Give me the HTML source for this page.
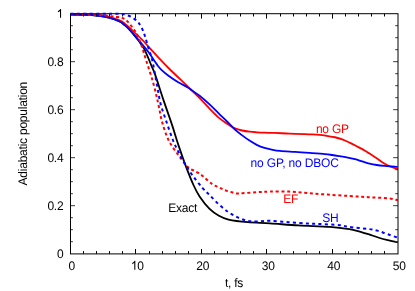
<!DOCTYPE html>
<html><head><meta charset="utf-8"><title>Adiabatic population</title>
<style>
html,body{margin:0;padding:0;background:#fff;}
body{width:415px;height:291px;overflow:hidden;}
svg{display:block;will-change:transform;}
text{text-rendering:geometricPrecision;letter-spacing:-0.23px;font-family:"Liberation Sans",sans-serif;font-size:12px;fill:#000;}
</style></head><body>
<svg width="415" height="291" viewBox="0 0 415 291">
<rect x="0" y="0" width="415" height="291" fill="#fff"/>
<g fill="none" stroke-width="1.8" stroke-linejoin="round">
<path stroke="#000" d="M70.50,14.60 C72.92,14.63 80.58,14.63 85.00,14.80 C89.42,14.97 92.83,15.08 97.00,15.60 C101.17,16.12 106.23,16.92 110.00,17.90 C113.77,18.88 117.18,20.33 119.60,21.50 C122.02,22.67 122.88,23.58 124.50,24.90 C126.12,26.22 127.70,27.72 129.30,29.40 C130.90,31.08 132.57,33.13 134.10,35.00 C135.63,36.87 136.80,38.23 138.50,40.60 C140.20,42.97 142.17,45.08 144.30,49.20 C146.43,53.32 149.45,60.93 151.30,65.30 C153.15,69.67 153.35,69.55 155.40,75.40 C157.45,81.25 160.80,92.07 163.60,100.40 C166.40,108.73 169.72,117.90 172.20,125.40 C174.68,132.90 176.20,138.53 178.50,145.40 C180.80,152.27 183.47,159.92 186.00,166.60 C188.53,173.28 191.43,180.52 193.70,185.50 C195.97,190.48 197.00,192.63 199.60,196.50 C202.20,200.37 206.08,205.48 209.30,208.70 C212.52,211.92 215.70,213.98 218.90,215.80 C222.10,217.62 223.68,218.53 228.50,219.60 C233.32,220.67 240.88,221.57 247.80,222.20 C254.72,222.83 261.55,222.87 270.00,223.40 C278.45,223.93 288.50,224.82 298.50,225.40 C308.50,225.98 321.53,226.28 330.00,226.90 C338.47,227.52 344.48,228.37 349.30,229.10 C354.12,229.83 355.70,230.45 358.90,231.30 C362.10,232.15 365.28,233.17 368.50,234.20 C371.72,235.23 374.98,236.50 378.20,237.50 C381.42,238.50 384.55,239.38 387.80,240.20 C391.05,241.02 396.05,242.03 397.70,242.40"/>
<path stroke="#f00" d="M70.50,14.55 C72.92,14.58 80.08,14.59 85.00,14.70 C89.92,14.81 95.83,14.82 100.00,15.20 C104.17,15.58 106.73,16.13 110.00,17.00 C113.27,17.87 117.18,19.33 119.60,20.40 C122.02,21.47 122.88,22.25 124.50,23.40 C126.12,24.55 127.70,25.83 129.30,27.30 C130.90,28.77 132.50,30.65 134.10,32.20 C135.70,33.75 137.50,35.30 138.90,36.60 C140.30,37.90 140.45,37.83 142.50,40.00 C144.55,42.17 148.65,46.78 151.20,49.60 C153.75,52.42 154.92,53.83 157.80,56.90 C160.68,59.97 163.50,63.05 168.50,68.00 C173.50,72.95 182.62,81.58 187.80,86.60 C192.98,91.62 196.02,94.47 199.60,98.10 C203.18,101.73 206.08,105.10 209.30,108.40 C212.52,111.70 215.70,115.20 218.90,117.90 C222.10,120.60 225.82,122.85 228.50,124.60 C231.18,126.35 232.72,127.42 235.00,128.40 C237.28,129.38 239.78,129.95 242.20,130.50 C244.62,131.05 247.08,131.40 249.50,131.70 C251.92,132.00 254.12,132.13 256.70,132.30 C259.28,132.47 261.95,132.60 265.00,132.70 C268.05,132.80 270.92,132.75 275.00,132.90 C279.08,133.05 284.50,133.40 289.50,133.60 C294.50,133.80 301.22,133.97 305.00,134.10 C308.78,134.23 309.78,134.27 312.20,134.40 C314.62,134.53 317.08,134.66 319.50,134.90 C321.92,135.14 324.12,135.46 326.70,135.85 C329.28,136.24 332.42,136.66 335.00,137.25 C337.58,137.84 339.78,138.50 342.20,139.40 C344.62,140.30 347.08,141.50 349.50,142.65 C351.92,143.80 354.12,144.96 356.70,146.30 C359.28,147.64 362.87,149.48 365.00,150.70 C367.13,151.92 367.55,152.35 369.50,153.60 C371.45,154.85 374.58,156.77 376.70,158.20 C378.82,159.63 380.07,160.87 382.20,162.20 C384.33,163.53 386.92,165.05 389.50,166.20 C392.08,167.35 396.33,168.62 397.70,169.10"/>
<path stroke="#00f" d="M70.50,14.60 C72.92,14.63 80.58,14.63 85.00,14.80 C89.42,14.97 92.83,15.08 97.00,15.60 C101.17,16.12 106.23,16.92 110.00,17.90 C113.77,18.88 117.18,20.33 119.60,21.50 C122.02,22.67 122.88,23.58 124.50,24.90 C126.12,26.22 127.70,27.75 129.30,29.40 C130.90,31.05 132.65,33.13 134.10,34.80 C135.55,36.47 135.65,36.57 138.00,39.40 C140.35,42.23 145.45,48.20 148.20,51.80 C150.95,55.40 152.90,58.68 154.50,61.00 C156.10,63.32 156.60,64.18 157.80,65.70 C159.00,67.22 159.92,68.43 161.70,70.10 C163.48,71.77 165.75,73.68 168.50,75.70 C171.25,77.72 174.98,80.25 178.20,82.20 C181.42,84.15 185.55,86.07 187.80,87.40 C190.05,88.73 189.73,88.80 191.70,90.20 C193.67,91.60 196.67,93.47 199.60,95.80 C202.53,98.13 206.08,101.23 209.30,104.20 C212.52,107.17 215.70,110.50 218.90,113.60 C222.10,116.70 225.82,120.13 228.50,122.80 C231.18,125.47 232.72,127.50 235.00,129.60 C237.28,131.70 239.78,133.57 242.20,135.40 C244.62,137.23 247.00,138.98 249.50,140.60 C252.00,142.22 254.70,143.88 257.20,145.10 C259.70,146.32 262.08,147.15 264.50,147.90 C266.92,148.65 269.12,149.10 271.70,149.60 C274.28,150.10 276.12,150.52 280.00,150.90 C283.88,151.28 290.08,151.57 295.00,151.90 C299.92,152.23 304.50,152.53 309.50,152.90 C314.50,153.27 321.22,153.75 325.00,154.10 C328.78,154.45 329.78,154.67 332.20,155.00 C334.62,155.33 337.08,155.72 339.50,156.10 C341.92,156.48 344.12,156.79 346.70,157.30 C349.28,157.81 352.42,158.47 355.00,159.15 C357.58,159.83 359.78,160.66 362.20,161.40 C364.62,162.14 367.08,163.00 369.50,163.60 C371.92,164.20 374.12,164.62 376.70,165.00 C379.28,165.38 381.50,165.58 385.00,165.90 C388.50,166.22 395.58,166.73 397.70,166.90"/>
<path stroke="#f00" stroke-width="2" stroke-dasharray="3.0 2.7" d="M70.50,14.65 C73.75,14.70 85.08,14.85 90.00,14.95 C94.92,15.05 96.45,15.04 100.00,15.25 C103.55,15.46 108.52,15.92 111.30,16.20 C114.08,16.47 114.90,16.62 116.70,16.90 C118.50,17.18 120.57,17.38 122.10,17.90 C123.63,18.42 124.70,19.08 125.90,20.00 C127.10,20.92 128.17,22.10 129.30,23.40 C130.43,24.70 131.73,26.50 132.70,27.80 C133.67,29.10 134.30,29.92 135.10,31.20 C135.90,32.48 136.45,33.18 137.50,35.50 C138.55,37.82 139.95,40.93 141.40,45.10 C142.85,49.27 144.22,54.15 146.20,60.50 C148.18,66.85 151.30,76.05 153.30,83.20 C155.30,90.35 156.75,97.00 158.20,103.40 C159.65,109.80 160.27,115.47 162.00,121.60 C163.73,127.73 165.97,134.75 168.60,140.20 C171.23,145.65 175.02,150.35 177.80,154.30 C180.58,158.25 183.38,161.55 185.30,163.90 C187.22,166.25 187.73,167.23 189.30,168.40 C190.87,169.57 192.52,169.67 194.70,170.90 C196.88,172.13 199.52,173.62 202.40,175.80 C205.28,177.98 209.32,182.12 212.00,184.00 C214.68,185.88 216.73,186.22 218.50,187.10 C220.27,187.97 221.20,188.62 222.60,189.25 C224.00,189.88 225.33,190.34 226.90,190.85 C228.47,191.36 230.37,191.86 232.00,192.30 C233.63,192.74 234.95,193.35 236.70,193.50 C238.45,193.65 239.05,193.42 242.50,193.20 C245.95,192.98 252.82,192.47 257.40,192.20 C261.98,191.93 264.75,191.70 270.00,191.60 C275.25,191.50 282.53,191.35 288.90,191.60 C295.27,191.85 301.78,192.60 308.20,193.10 C314.62,193.60 320.55,194.12 327.40,194.60 C334.25,195.08 342.45,195.57 349.30,196.00 C356.15,196.43 362.08,196.82 368.50,197.20 C374.92,197.58 382.93,197.80 387.80,198.30 C392.67,198.80 396.05,199.88 397.70,200.20"/>
</g>
<path d="M83.50,253.90V251.10 M83.50,13.70V16.50 M96.50,253.90V251.10 M96.50,13.70V16.50 M109.50,253.90V251.10 M109.50,13.70V16.50 M122.50,253.90V251.10 M122.50,13.70V16.50 M135.50,253.90V249.00 M135.50,13.70V18.60 M149.50,253.90V251.10 M149.50,13.70V16.50 M162.50,253.90V251.10 M162.50,13.70V16.50 M175.50,253.90V251.10 M175.50,13.70V16.50 M188.50,253.90V251.10 M188.50,13.70V16.50 M201.50,253.90V249.00 M201.50,13.70V18.60 M214.50,253.90V251.10 M214.50,13.70V16.50 M227.50,253.90V251.10 M227.50,13.70V16.50 M240.50,253.90V251.10 M240.50,13.70V16.50 M253.50,253.90V251.10 M253.50,13.70V16.50 M266.50,253.90V249.00 M266.50,13.70V18.60 M280.50,253.90V251.10 M280.50,13.70V16.50 M293.50,253.90V251.10 M293.50,13.70V16.50 M306.50,253.90V251.10 M306.50,13.70V16.50 M319.50,253.90V251.10 M319.50,13.70V16.50 M332.50,253.90V249.00 M332.50,13.70V18.60 M345.50,253.90V251.10 M345.50,13.70V16.50 M358.50,253.90V251.10 M358.50,13.70V16.50 M371.50,253.90V251.10 M371.50,13.70V16.50 M384.50,253.90V251.10 M384.50,13.70V16.50 " stroke="#000" stroke-width="1" fill="none"/>
<path d="M70.50,241.68H72.90 M398.00,241.68H395.20 M70.50,229.68H72.90 M398.00,229.68H395.20 M70.50,217.68H72.90 M398.00,217.68H395.20 M70.50,205.68H75.00 M398.00,205.68H393.10 M70.50,193.68H72.90 M398.00,193.68H395.20 M70.50,181.68H72.90 M398.00,181.68H395.20 M70.50,169.68H72.90 M398.00,169.68H395.20 M70.50,157.68H75.00 M398.00,157.68H393.10 M70.50,145.68H72.90 M398.00,145.68H395.20 M70.50,133.68H72.90 M398.00,133.68H395.20 M70.50,121.68H72.90 M398.00,121.68H395.20 M70.50,109.68H75.00 M398.00,109.68H393.10 M70.50,97.68H72.90 M398.00,97.68H395.20 M70.50,85.68H72.90 M398.00,85.68H395.20 M70.50,73.68H72.90 M398.00,73.68H395.20 M70.50,61.68H75.00 M398.00,61.68H393.10 M70.50,49.68H72.90 M398.00,49.68H395.20 M70.50,37.68H72.90 M398.00,37.68H395.20 M70.50,25.68H72.90 M398.00,25.68H395.20 " stroke="#3a3a3a" stroke-width="1" fill="none"/>
<rect x="70.50" y="13.70" width="327.50" height="240.20" fill="none" stroke="#000" stroke-width="1"/>
<path fill="none" stroke="#00f" stroke-width="2" stroke-dasharray="3.1 3.3" d="M70.50,13.75 C75.42,13.75 91.65,13.74 100.00,13.75 C108.35,13.76 116.12,13.56 120.60,13.80 C125.08,14.04 124.88,14.55 126.90,15.20 C128.92,15.85 130.93,16.63 132.70,17.70 C134.47,18.77 136.33,20.48 137.50,21.60 C138.67,22.72 138.82,22.97 139.70,24.40 C140.58,25.83 141.88,28.10 142.80,30.20 C143.72,32.30 144.22,33.88 145.20,37.00 C146.18,40.12 147.52,45.00 148.70,48.90 C149.88,52.80 150.92,54.37 152.30,60.40 C153.68,66.43 155.63,77.93 157.00,85.10 C158.37,92.27 158.93,97.32 160.50,103.40 C162.07,109.48 164.33,115.50 166.40,121.60 C168.47,127.70 170.88,134.93 172.90,140.00 C174.92,145.07 176.57,148.12 178.50,152.00 C180.43,155.88 182.15,159.38 184.50,163.30 C186.85,167.22 189.62,171.42 192.60,175.50 C195.58,179.58 199.62,184.60 202.40,187.80 C205.18,191.00 206.55,191.93 209.30,194.70 C212.05,197.47 215.70,201.48 218.90,204.40 C222.10,207.32 225.28,210.00 228.50,212.20 C231.72,214.40 234.98,216.15 238.20,217.60 C241.42,219.05 244.60,220.27 247.80,220.90 C251.00,221.53 253.77,221.42 257.40,221.40 C261.03,221.38 264.35,220.67 269.60,220.80 C274.85,220.93 282.47,221.73 288.90,222.20 C295.33,222.67 303.07,223.30 308.20,223.60 C313.33,223.90 314.40,223.73 319.70,224.00 C325.00,224.27 335.07,224.70 340.00,225.20 C344.93,225.70 344.55,226.37 349.30,227.00 C354.05,227.63 363.68,228.35 368.50,229.00 C373.32,229.65 374.98,230.02 378.20,230.90 C381.42,231.78 384.55,233.18 387.80,234.30 C391.05,235.42 396.05,237.05 397.70,237.60"/>
<text transform="translate(63.40,258.05) scale(1,1.035)" text-anchor="end">0</text>
<text transform="translate(63.40,210.01) scale(1,1.035)" text-anchor="end">0.2</text>
<text transform="translate(63.40,161.97) scale(1,1.035)" text-anchor="end">0.4</text>
<text transform="translate(63.40,113.93) scale(1,1.035)" text-anchor="end">0.6</text>
<text transform="translate(63.40,65.89) scale(1,1.035)" text-anchor="end">0.8</text>
<path d="M763 0H583V1147Q518 1085 412.5 1023Q307 961 223 930V1104Q374 1175 487 1276Q600 1377 647 1472H763Z" fill="#000" transform="translate(56.60,17.85) scale(0.005859,-0.006064)"/>
<text transform="translate(71.80,269.80) scale(1,1.035)" text-anchor="middle">0</text>
<path d="M763 0H583V1147Q518 1085 412.5 1023Q307 961 223 930V1104Q374 1175 487 1276Q600 1377 647 1472H763Z" fill="#000" transform="translate(130.86,269.80) scale(0.005859,-0.006064)"/>
<text transform="translate(137.30,269.80) scale(1,1.035)">0</text>
<text transform="translate(202.80,269.80) scale(1,1.035)" text-anchor="middle">20</text>
<text transform="translate(268.30,269.80) scale(1,1.035)" text-anchor="middle">30</text>
<text transform="translate(333.80,269.80) scale(1,1.035)" text-anchor="middle">40</text>
<text transform="translate(399.30,269.80) scale(1,1.035)" text-anchor="middle">50</text>
<text transform="translate(234.00,286.90) scale(1,1.035)" text-anchor="middle">t, fs</text>
<text transform="translate(27.10,133.70) rotate(-90) scale(1,1.035)" text-anchor="middle">Adiabatic population</text>
<text transform="translate(315.90,132.50) scale(1,1.035)" style="fill:#f00">no GP</text>
<text transform="translate(250.50,166.60) scale(1,1.035)" style="letter-spacing:-0.16px;fill:#00f">no GP, no DBOC</text>
<text transform="translate(283.30,202.90) scale(1,1.035)" style="fill:#f00">EF</text>
<text transform="translate(322.20,221.90) scale(1,1.035)" style="fill:#00f">SH</text>
<text transform="translate(168.20,212.30) scale(1,1.035)">Exact</text>
</svg>
</body></html>
